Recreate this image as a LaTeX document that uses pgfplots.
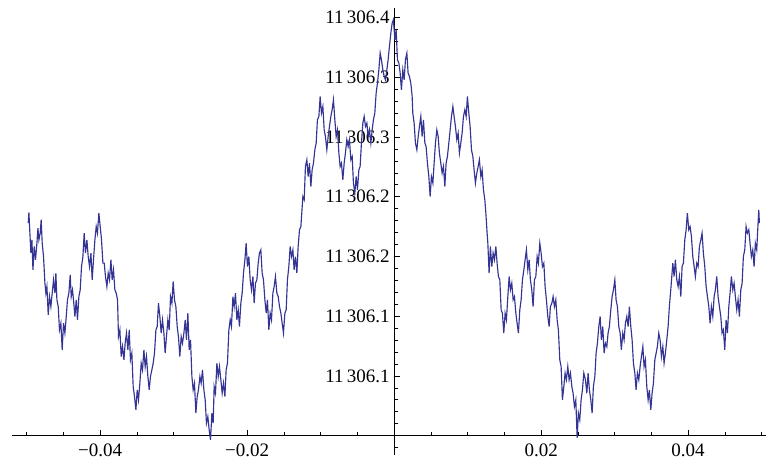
\documentclass[border=0pt]{standalone}
\usepackage{fontspec}
\setmainfont{Liberation Serif}
\usepackage{pgfplots}
\pgfplotsset{compat=1.18}
\definecolor{mline}{RGB}{52,52,148}
\begin{document}
\begin{tikzpicture}
\begin{axis}[
  scale only axis,
  width=754pt, height=427.6pt,
  xmin=-0.052, xmax=0.0506,
  ymin=0.05, ymax=0.408,
  axis x line=bottom, axis y line=middle,
  axis line style={-, black, line width=0.7pt},
  clip=false,
  scaled x ticks=false, scaled y ticks=false,
  tick align=inside,
  major tick length=6pt, minor tick length=3.5pt,
  tick style={black, line width=0.6pt},
  xtick={-0.04,-0.02,0.02,0.04},
  xticklabels={−0.04,−0.02,0.02,0.04},
  minor xtick={-0.05,-0.045,-0.035,-0.03,-0.025,-0.015,-0.01,-0.005,0.005,0.01,0.015,0.025,0.03,0.035,0.045,0.05},
  ytick={0.1,0.15,0.2,0.25,0.3,0.35,0.4},
  yticklabels={11\,306.1,11\,306.1,11\,306.2,11\,306.2,11\,306.3,11\,306.3,11\,306.4},
  minor ytick={0.06,0.07,0.08,0.09,0.11,0.12,0.13,0.14,0.16,0.17,0.18,0.19,0.21,0.22,0.23,0.24,0.26,0.27,0.28,0.29,0.31,0.32,0.33,0.34,0.36,0.37,0.38,0.39},
  ticklabel style={font=\fontsize{19}{22}\selectfont},
  xticklabel style={yshift=-5pt},
  yticklabel style={xshift=-1pt},
]
\draw[black, line width=0.7pt] (axis cs:0,0.05) -- (axis cs:0,0.034);
\draw[black, line width=0.6pt] (axis cs:0,0.04) -- ([xshift=3.5pt]axis cs:0,0.04);
\addplot[mline, line width=1.15pt, mark=none] table {
x y
-0.04979 0.2279
-0.04970 0.2368
-0.04952 0.2139
-0.04943 0.2028
-0.04929 0.2139
-0.04915 0.1888
-0.04898 0.2083
-0.04880 0.1972
-0.04861 0.2111
-0.04847 0.2237
-0.04834 0.2139
-0.04816 0.2195
-0.04803 0.2307
-0.04789 0.2111
-0.04771 0.1999
-0.04752 0.1776
-0.04739 0.1693
-0.04725 0.1748
-0.04707 0.1511
-0.04690 0.1664
-0.04671 0.1580
-0.04653 0.1693
-0.04635 0.1804
-0.04616 0.1693
-0.04603 0.1860
-0.04589 0.1637
-0.04571 0.1580
-0.04554 0.1385
-0.04535 0.1441
-0.04517 0.1218
-0.04499 0.1441
-0.04480 0.1358
-0.04462 0.1497
-0.04445 0.1637
-0.04426 0.1693
-0.04408 0.1846
-0.04394 0.1664
-0.04377 0.1720
-0.04363 0.1637
-0.04344 0.1497
-0.04326 0.1637
-0.04309 0.1469
-0.04290 0.1664
-0.04272 0.1720
-0.04254 0.1915
-0.04235 0.1999
-0.04218 0.2195
-0.04200 0.2028
-0.04181 0.2139
-0.04163 0.1999
-0.04145 0.1915
-0.04126 0.2028
-0.04109 0.1804
-0.04091 0.1972
-0.04072 0.2139
-0.04054 0.2250
-0.04037 0.2195
-0.04018 0.2363
-0.04000 0.2250
-0.03982 0.2139
-0.03963 0.1944
-0.03945 0.1944
-0.03928 0.1832
-0.03909 0.1748
-0.03891 0.1860
-0.03873 0.1804
-0.03854 0.1972
-0.03837 0.1804
-0.03819 0.1888
-0.03800 0.1720
-0.03782 0.1693
-0.03764 0.1637
-0.03751 0.1329
-0.03732 0.1385
-0.03714 0.1162
-0.03696 0.1245
-0.03677 0.1134
-0.03660 0.1274
-0.03642 0.1358
-0.03623 0.1218
-0.03605 0.1385
-0.03588 0.1134
-0.03569 0.1190
-0.03551 0.0910
-0.03533 0.0827
-0.03514 0.0715
-0.03496 0.0883
-0.03479 0.0799
-0.03460 0.0939
-0.03442 0.1106
-0.03424 0.1050
-0.03405 0.1218
-0.03388 0.1078
-0.03370 0.1162
-0.03351 0.0994
-0.03333 0.0883
-0.03316 0.0994
-0.03297 0.1050
-0.03279 0.1106
-0.03261 0.1190
-0.03242 0.1385
-0.03224 0.1413
-0.03207 0.1609
-0.03188 0.1497
-0.03170 0.1358
-0.03152 0.1469
-0.03133 0.1358
-0.03116 0.1190
-0.03098 0.1329
-0.03079 0.1469
-0.03061 0.1385
-0.03043 0.1664
-0.03024 0.1609
-0.03007 0.1790
-0.02989 0.1637
-0.02970 0.1580
-0.02952 0.1413
-0.02935 0.1329
-0.02916 0.1162
-0.02898 0.1329
-0.02880 0.1274
-0.02861 0.1358
-0.02843 0.1469
-0.02826 0.1302
-0.02807 0.1525
-0.02789 0.1218
-0.02771 0.1302
-0.02752 0.0994
-0.02735 0.0883
-0.02717 0.0939
-0.02698 0.0688
-0.02680 0.0827
-0.02663 0.0883
-0.02643 0.0994
-0.02626 0.0939
-0.02608 0.1050
-0.02589 0.0883
-0.02571 0.0799
-0.02554 0.0604
-0.02535 0.0659
-0.02517 0.0548
-0.02499 0.0464
-0.02480 0.0688
-0.02463 0.0604
-0.02449 0.0910
-0.02431 0.0855
-0.02412 0.1106
-0.02394 0.0994
-0.02377 0.1078
-0.02358 0.0967
-0.02340 0.0855
-0.02322 0.0939
-0.02303 0.0827
-0.02286 0.1050
-0.02268 0.1106
-0.02249 0.1385
-0.02231 0.1469
-0.02214 0.1413
-0.02194 0.1664
-0.02177 0.1580
-0.02159 0.1693
-0.02140 0.1469
-0.02122 0.1553
-0.02105 0.1413
-0.02086 0.1609
-0.02068 0.1693
-0.02050 0.1860
-0.02031 0.1972
-0.02014 0.2111
-0.01996 0.1915
-0.01977 0.1999
-0.01959 0.1804
-0.01941 0.1720
-0.01922 0.1832
-0.01905 0.1609
-0.01887 0.1776
-0.01868 0.1804
-0.01850 0.1944
-0.01833 0.2028
-0.01814 0.2055
-0.01796 0.1860
-0.01778 0.1804
-0.01759 0.1637
-0.01741 0.1525
-0.01724 0.1637
-0.01705 0.1385
-0.01687 0.1525
-0.01669 0.1469
-0.01650 0.1693
-0.01633 0.1748
-0.01615 0.1832
-0.01596 0.1693
-0.01578 0.1664
-0.01560 0.1580
-0.01541 0.1525
-0.01524 0.1441
-0.01506 0.1358
-0.01487 0.1525
-0.01469 0.1553
-0.01452 0.1804
-0.01433 0.1915
-0.01415 0.2083
-0.01397 0.1999
-0.01378 0.2055
-0.01361 0.1888
-0.01343 0.1999
-0.01324 0.1860
-0.01306 0.2083
-0.01288 0.2223
-0.01269 0.2250
-0.01242 0.2502
-0.01224 0.2474
-0.01207 0.2753
-0.01188 0.2809
-0.01170 0.2669
-0.01152 0.2781
-0.01133 0.2585
-0.01116 0.2725
-0.01098 0.2781
-0.01079 0.2893
-0.01061 0.2949
-0.01044 0.3144
-0.01024 0.3172
-0.01007 0.3339
-0.00989 0.3200
-0.00970 0.3255
-0.00952 0.3060
-0.00935 0.3004
-0.00916 0.2893
-0.00898 0.3004
-0.00880 0.3088
-0.00861 0.3172
-0.00844 0.3228
-0.00826 0.3312
-0.00807 0.3144
-0.00789 0.3004
-0.00771 0.3060
-0.00752 0.2865
-0.00735 0.2753
-0.00717 0.2781
-0.00698 0.2642
-0.00680 0.2781
-0.00663 0.2865
-0.00644 0.2977
-0.00626 0.2920
-0.00608 0.2977
-0.00589 0.2809
-0.00571 0.2837
-0.00554 0.2614
-0.00535 0.2530
-0.00517 0.2669
-0.00499 0.2558
-0.00480 0.2725
-0.00463 0.2753
-0.00445 0.2949
-0.00426 0.3116
-0.00408 0.3172
-0.00390 0.3088
-0.00371 0.3116
-0.00354 0.3004
-0.00336 0.3060
-0.00317 0.2949
-0.00299 0.3060
-0.00282 0.3144
-0.00263 0.3200
-0.00245 0.3368
-0.00227 0.3451
-0.00208 0.3563
-0.00190 0.3703
-0.00173 0.3647
-0.00154 0.3563
-0.00136 0.3507
-0.00118 0.3479
-0.00099 0.3563
-0.00082 0.3647
-0.00064 0.3758
-0.00045 0.3870
-0.00027 0.3954
-0.00010 0.3982
0.00010 0.3814
0.00027 0.3898
0.00045 0.3647
0.00064 0.3619
0.00082 0.3535
0.00099 0.3395
0.00118 0.3563
0.00136 0.3479
0.00154 0.3647
0.00173 0.3703
0.00190 0.3535
0.00208 0.3507
0.00227 0.3451
0.00245 0.3339
0.00254 0.3200
0.00272 0.3116
0.00290 0.2949
0.00309 0.2893
0.00327 0.3004
0.00344 0.3088
0.00363 0.3172
0.00381 0.3004
0.00399 0.3144
0.00418 0.2949
0.00435 0.2920
0.00453 0.2781
0.00472 0.2669
0.00490 0.2502
0.00507 0.2669
0.00527 0.2614
0.00544 0.2781
0.00562 0.2949
0.00581 0.3060
0.00599 0.3004
0.00616 0.2865
0.00635 0.2781
0.00653 0.2698
0.00671 0.2753
0.00690 0.2585
0.00707 0.2781
0.00725 0.2837
0.00744 0.2949
0.00762 0.3060
0.00780 0.3172
0.00799 0.3255
0.00816 0.3172
0.00834 0.3088
0.00853 0.2977
0.00871 0.3033
0.00888 0.2865
0.00907 0.2949
0.00925 0.3033
0.00943 0.3172
0.00962 0.3228
0.00980 0.3172
0.00997 0.3339
0.01016 0.3200
0.01034 0.3088
0.01052 0.2893
0.01071 0.2837
0.01088 0.2725
0.01106 0.2614
0.01125 0.2698
0.01143 0.2753
0.01160 0.2809
0.01180 0.2669
0.01197 0.2725
0.01215 0.2558
0.01234 0.2474
0.01248 0.2363
0.01265 0.2195
0.01275 0.2111
0.01292 0.1860
0.01310 0.2083
0.01329 0.1915
0.01347 0.2028
0.01365 0.1972
0.01384 0.2083
0.01401 0.1944
0.01419 0.1832
0.01438 0.1804
0.01456 0.1553
0.01473 0.1525
0.01492 0.1358
0.01510 0.1525
0.01528 0.1469
0.01547 0.1664
0.01565 0.1832
0.01582 0.1720
0.01601 0.1776
0.01619 0.1637
0.01637 0.1664
0.01656 0.1525
0.01673 0.1441
0.01691 0.1358
0.01710 0.1553
0.01728 0.1637
0.01746 0.1804
0.01765 0.1888
0.01782 0.1972
0.01800 0.2055
0.01819 0.1888
0.01837 0.1972
0.01854 0.1804
0.01873 0.1720
0.01891 0.1580
0.01909 0.1804
0.01928 0.1832
0.01946 0.1999
0.01963 0.1944
0.01982 0.2111
0.02000 0.2028
0.02018 0.1915
0.02037 0.1944
0.02054 0.1748
0.02072 0.1637
0.02091 0.1497
0.02109 0.1413
0.02126 0.1580
0.02146 0.1609
0.02163 0.1664
0.02181 0.1580
0.02200 0.1637
0.02218 0.1469
0.02235 0.1385
0.02254 0.1134
0.02272 0.1078
0.02290 0.0799
0.02309 0.0910
0.02326 0.1023
0.02344 0.0967
0.02363 0.1078
0.02381 0.0967
0.02399 0.1023
0.02418 0.0910
0.02435 0.0855
0.02453 0.0743
0.02472 0.0799
0.02490 0.0481
0.02507 0.0688
0.02526 0.0632
0.02544 0.0799
0.02562 0.0883
0.02581 0.1023
0.02603 0.0967
0.02622 0.0855
0.02639 0.1023
0.02657 0.0883
0.02676 0.0799
0.02694 0.0688
0.02711 0.0910
0.02731 0.0994
0.02748 0.1190
0.02766 0.1274
0.02785 0.1413
0.02803 0.1497
0.02820 0.1302
0.02839 0.1413
0.02857 0.1190
0.02875 0.1274
0.02894 0.1245
0.02911 0.1358
0.02929 0.1413
0.02948 0.1553
0.02966 0.1664
0.02984 0.1720
0.03003 0.1804
0.03020 0.1637
0.03038 0.1580
0.03057 0.1413
0.03075 0.1358
0.03092 0.1218
0.03111 0.1358
0.03129 0.1302
0.03147 0.1441
0.03166 0.1497
0.03184 0.1413
0.03201 0.1580
0.03220 0.1413
0.03238 0.1302
0.03256 0.1106
0.03275 0.1023
0.03292 0.0883
0.03310 0.1023
0.03329 0.0967
0.03347 0.1078
0.03365 0.1162
0.03384 0.1245
0.03401 0.1078
0.03419 0.1134
0.03438 0.0910
0.03456 0.0799
0.03473 0.0883
0.03492 0.0715
0.03510 0.0855
0.03528 0.0939
0.03547 0.1134
0.03565 0.1190
0.03582 0.1245
0.03601 0.1358
0.03619 0.1302
0.03637 0.1162
0.03656 0.1245
0.03673 0.1106
0.03691 0.1190
0.03710 0.1302
0.03728 0.1413
0.03745 0.1580
0.03764 0.1720
0.03792 0.1944
0.03809 0.1832
0.03827 0.1972
0.03846 0.1804
0.03864 0.1748
0.03882 0.1832
0.03901 0.1664
0.03918 0.1915
0.03936 0.1944
0.03955 0.2139
0.03973 0.2223
0.03990 0.2363
0.04009 0.2223
0.04027 0.2250
0.04045 0.2167
0.04064 0.1999
0.04082 0.1915
0.04099 0.1832
0.04118 0.1944
0.04136 0.1915
0.04154 0.2083
0.04173 0.2139
0.04190 0.2195
0.04208 0.2028
0.04227 0.1915
0.04245 0.1748
0.04263 0.1664
0.04282 0.1580
0.04299 0.1441
0.04317 0.1580
0.04336 0.1497
0.04354 0.1664
0.04371 0.1720
0.04390 0.1832
0.04408 0.1664
0.04426 0.1580
0.04445 0.1497
0.04462 0.1358
0.04480 0.1385
0.04499 0.1218
0.04517 0.1469
0.04535 0.1358
0.04554 0.1580
0.04571 0.1693
0.04589 0.1832
0.04608 0.1720
0.04626 0.1776
0.04643 0.1664
0.04662 0.1553
0.04680 0.1637
0.04698 0.1497
0.04717 0.1720
0.04735 0.1776
0.04752 0.1999
0.04771 0.2055
0.04789 0.2250
0.04807 0.2195
0.04826 0.2223
0.04843 0.2111
0.04861 0.1999
0.04880 0.2055
0.04898 0.1915
0.04915 0.2111
0.04934 0.2055
0.04952 0.2279
0.04962 0.2390
0.04970 0.2279
};
\end{axis}
\pgfresetboundingbox
\path ([shift={(-12pt,-28.4pt)}]current axis.south west) rectangle ([shift={(0pt,8pt)}]current axis.north east);
\end{tikzpicture}
\end{document}
